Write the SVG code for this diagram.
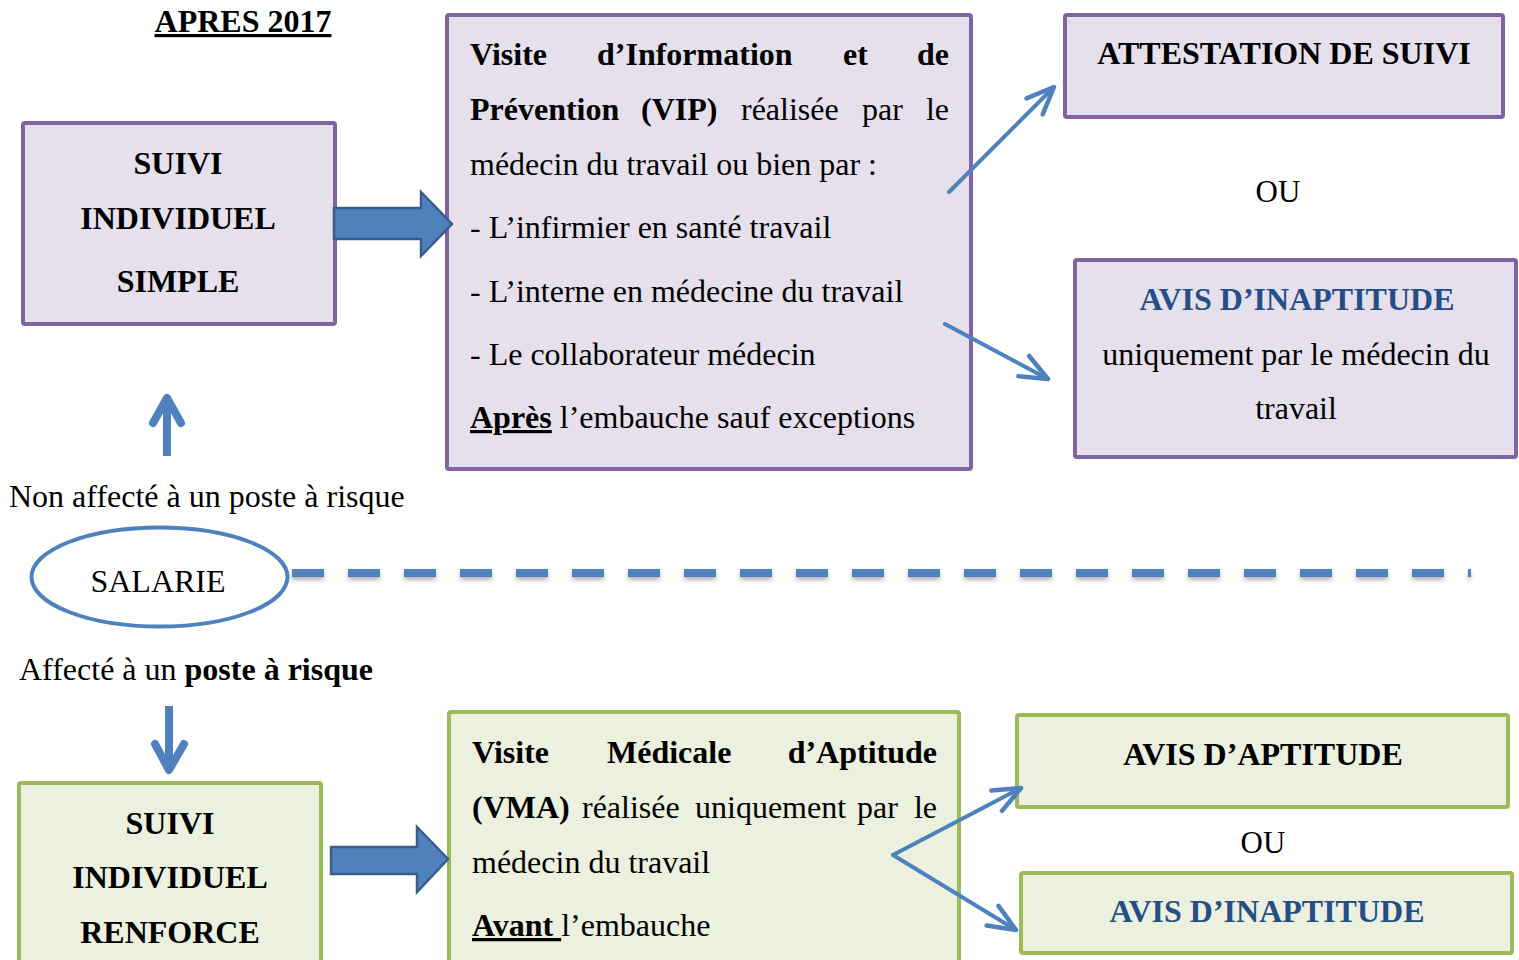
<svg xmlns="http://www.w3.org/2000/svg" width="1519" height="960" viewBox="0 0 1519 960">
<style>
  text { font-family: "Liberation Serif", "Times New Roman", serif; font-size: 32px; fill: #000; }
  .b { font-weight: bold; }
  .c { text-anchor: middle; }
  .e { text-anchor: end; }
  .blue { fill: #264E86; }
  .pbox { fill: #E5E0EC; stroke: #8064A2; stroke-width: 4; }
  .gbox { fill: #EBF1DE; stroke: #9BBB59; stroke-width: 4; }
  .thin { fill: none; stroke: #4F81BD; stroke-width: 4; stroke-linecap: round; }
  .block { fill: #4F81BD; stroke: #385D8A; stroke-width: 2.5; }
  .vert { fill: none; stroke: #4F81BD; stroke-width: 8; stroke-linejoin: round; stroke-linecap: round; }
</style>
<defs>
  <marker id="ah" markerUnits="userSpaceOnUse" markerWidth="40" markerHeight="40" viewBox="-30 -15 35 30" refX="0" refY="0" orient="auto">
    <path d="M-24,-10 L0,0 L-24,10" fill="none" stroke="#4F81BD" stroke-width="4" stroke-linecap="round" stroke-linejoin="round"/>
  </marker>
  <filter id="sh" filterUnits="userSpaceOnUse" x="280" y="555" width="1210" height="40">
    <feDropShadow dx="0" dy="3" stdDeviation="2" flood-color="#000" flood-opacity="0.3"/>
  </filter>
</defs>

<g id="title">
  <text x="243" y="32" class="b c" text-decoration="underline">APRES 2017</text>
</g>

<g id="suivi-simple">
  <rect class="pbox" x="23" y="123" width="312" height="201" rx="2"/>
  <text x="178" y="174" class="b c">SUIVI</text>
  <text x="178" y="229" class="b c">INDIVIDUEL</text>
  <text x="178" y="292" class="b c">SIMPLE</text>
</g>

<g id="vip">
  <rect class="pbox" x="447" y="15" width="524" height="454" rx="2"/>
  <text y="65" class="b"><tspan x="470">Visite</tspan><tspan x="597">d’Information</tspan><tspan x="843">et</tspan><tspan x="949" class="e">de</tspan></text>
  <text y="120"><tspan x="470" class="b">Prévention</tspan><tspan x="641" class="b">(VIP)</tspan><tspan x="741">réalisée</tspan><tspan x="862">par</tspan><tspan x="949" class="e">le</tspan></text>
  <text x="470" y="175">médecin du travail ou bien par :</text>
  <text x="470" y="238">- L’infirmier en santé travail</text>
  <text x="470" y="302">- L’interne en médecine du travail</text>
  <text x="470" y="365">- Le collaborateur médecin</text>
  <text x="470" y="428"><tspan class="b" text-decoration="underline">Après</tspan> l’embauche sauf exceptions</text>
</g>

<g id="attestation">
  <rect class="pbox" x="1065" y="15" width="438" height="102" rx="2"/>
  <text x="1284" y="64" class="b c">ATTESTATION DE SUIVI</text>
</g>

<g id="ou-top">
  <text x="1278" y="202" class="c" style="font-size:31px">OU</text>
</g>

<g id="inaptitude-top">
  <rect class="pbox" x="1075" y="260" width="441" height="197" rx="2"/>
  <text x="1297" y="310" class="b c blue">AVIS D’INAPTITUDE</text>
  <text x="1296" y="365" class="c">uniquement par le médecin du</text>
  <text x="1296" y="419" class="c">travail</text>
</g>

<g id="non-affecte">
  <text x="9" y="507">Non affecté à un poste à risque</text>
</g>

<g id="salarie">
  <ellipse cx="159.5" cy="577" rx="128" ry="49.5" fill="none" stroke="#4F81BD" stroke-width="4"/>
  <text x="158" y="592" class="c">SALARIE</text>
</g>

<g id="affecte">
  <text x="19" y="680">Affecté à un <tspan class="b">poste à risque</tspan></text>
</g>

<g id="suivi-renforce">
  <rect class="gbox" x="19" y="783" width="302" height="190" rx="2"/>
  <text x="170" y="834" class="b c">SUIVI</text>
  <text x="170" y="888" class="b c">INDIVIDUEL</text>
  <text x="170" y="943" class="b c">RENFORCE</text>
</g>

<g id="vma">
  <rect class="gbox" x="449" y="712" width="510" height="260" rx="2"/>
  <text y="763" class="b"><tspan x="472">Visite</tspan><tspan x="607">Médicale</tspan><tspan x="937" class="e">d’Aptitude</tspan></text>
  <text y="818"><tspan x="472" class="b">(VMA)</tspan><tspan x="582">réalisée</tspan><tspan x="695">uniquement</tspan><tspan x="857">par</tspan><tspan x="937" class="e">le</tspan></text>
  <text x="472" y="873">médecin du travail</text>
  <text x="472" y="936"><tspan class="b" text-decoration="underline" xml:space="preserve">Avant </tspan>l’embauche</text>
</g>

<g id="aptitude">
  <rect class="gbox" x="1017" y="715" width="491" height="92" rx="2"/>
  <text x="1263" y="765" class="b c">AVIS D’APTITUDE</text>
</g>

<g id="ou-bottom">
  <text x="1263" y="853" class="c" style="font-size:31px">OU</text>
</g>

<g id="inaptitude-bottom">
  <rect class="gbox" x="1021" y="873" width="491" height="80" rx="2"/>
  <text x="1267" y="922" class="b c blue">AVIS D’INAPTITUDE</text>
</g>

<g id="connectors">
  <line x1="292" y1="573" x2="1471" y2="573" stroke="#4F81BD" stroke-width="8" stroke-dasharray="32 24" filter="url(#sh)"/>
  <path class="block" d="M334,208 L421,208 L421,192 L452,224 L421,256 L421,239 L334,239 Z"/>
  <path class="block" d="M331,847 L417,847 L417,827 L448,859 L417,892 L417,874 L331,874 Z"/>
  <line class="thin" x1="949" y1="192" x2="1054" y2="87" marker-end="url(#ah)"/>
  <line class="thin" x1="945" y1="324" x2="1048" y2="379" marker-end="url(#ah)"/>
  <path class="thin" d="M893,855 L1021,788" marker-end="url(#ah)"/>
  <path class="thin" d="M893,855 L1016,930" marker-end="url(#ah)"/>
  <line x1="167" y1="456" x2="167" y2="400" stroke="#4F81BD" stroke-width="8"/>
  <polyline class="vert" points="153,423 167,398 181,423"/>
  <line x1="169" y1="706" x2="169" y2="766" stroke="#4F81BD" stroke-width="8"/>
  <polyline class="vert" points="155,744 169,770 184,744"/>
</g>
</svg>
